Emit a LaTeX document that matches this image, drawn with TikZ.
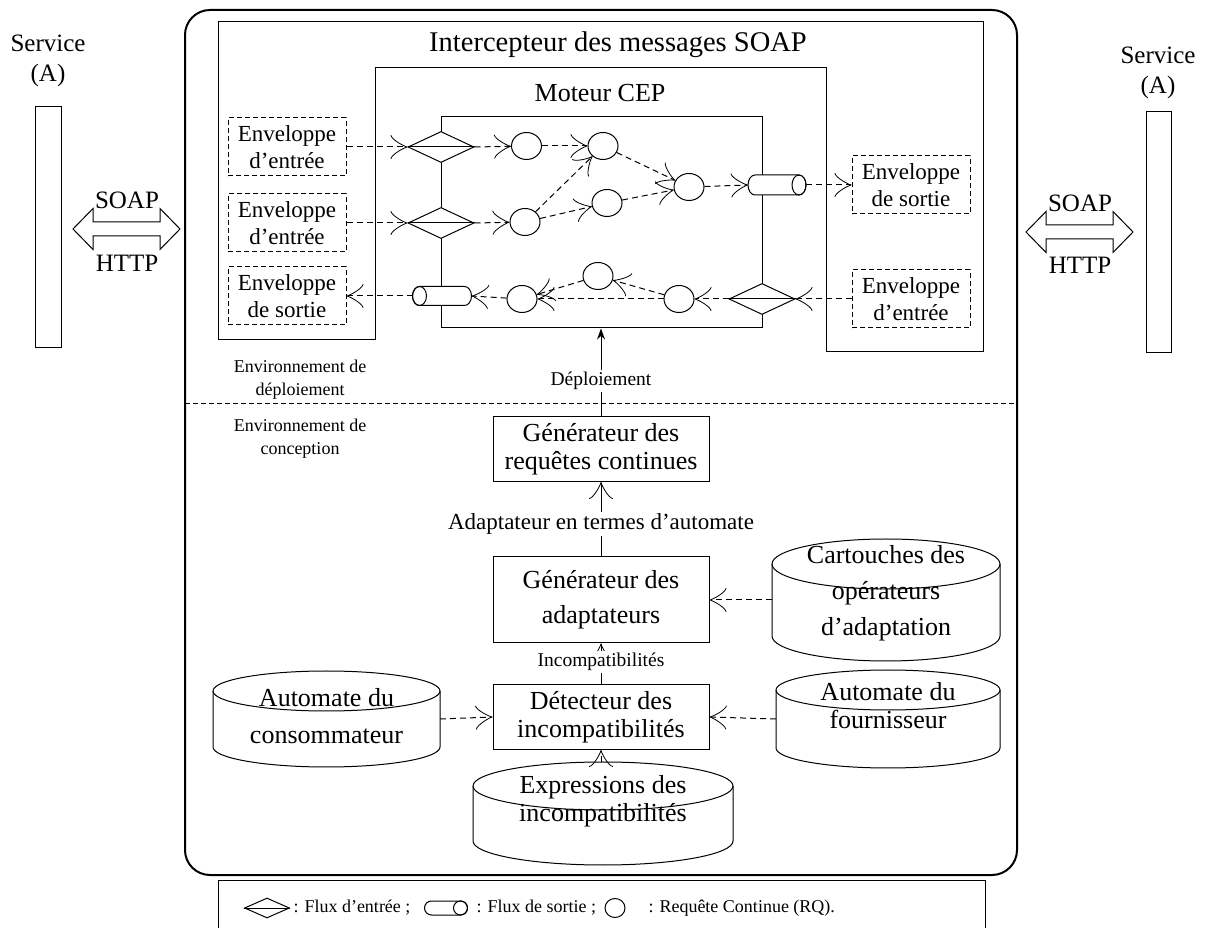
\documentclass[tikz,border=0pt]{standalone}
\usepackage{fontspec}
\setmainfont{Liberation Serif}
\usetikzlibrary{shapes.geometric, arrows.meta, calc}

\newcommand\bigtxt{\fontsize{26}{28}\selectfont}
\newcommand\widetxt{\fontsize{26}{36}\selectfont}
\newcommand\titletxt{\fontsize{28.5}{30}\selectfont}
\newcommand\svctxt{\fontsize{25}{30}\selectfont}
\newcommand\envtxt{\fontsize{23}{27}\selectfont}
\newcommand\labtxt{\fontsize{23}{24}\selectfont}
\newcommand\minortxt{\fontsize{19.5}{22}\selectfont}
\newcommand\smalltxt{\fontsize{18}{23}\selectfont}
\newcommand\legtxt{\fontsize{18}{20}\selectfont}

% horizontal tube (output stream): outline with rounded ends
\newcommand\tubebody[5]{% name, x, y, length, thickness ; end radius 7
  \node[minimum width=#4, minimum height=#5, inner sep=0pt, outer sep=0pt] (#1) at (#2,#3) {};
  \pgfmathsetmacro\tubeinner{#4-14}
  \pgfmathsetmacro\tuberad{#5/2}
  \draw[fill=white] ([xshift=7]#1.north west) -- ++(\tubeinner,0)
     arc[start angle=90, end angle=-90, x radius=7, y radius=\tuberad]
     -- ++(-\tubeinner,0)
     arc[start angle=270, end angle=90, x radius=7, y radius=\tuberad] -- cycle;
}
\newcommand\tubeR[5]{\tubebody{#1}{#2}{#3}{#4}{#5}%
  \draw ([xshift=-7]#1.east) ellipse[x radius=7, y radius=\tuberad];}
\newcommand\tubeL[5]{\tubebody{#1}{#2}{#3}{#4}{#5}%
  \draw ([xshift=7]#1.west) ellipse[x radius=7, y radius=\tuberad];}

% vertical storage cylinder drawn around a named node
\newcommand\store[6]{% name, x, y, width, height, cap radius
  \node[minimum width=#4, minimum height=#5, inner sep=0pt, outer sep=0pt] (#1) at (#2,#3) {};
  \pgfmathsetmacro\storerx{#4/2}
  \draw[fill=white] ([yshift=-#6]#1.north west) -- ([yshift=#6]#1.south west)
     arc[start angle=180, end angle=360, x radius=\storerx, y radius=#6]
     -- ([yshift=-#6]#1.north east)
     arc[start angle=0, end angle=180, x radius=\storerx, y radius=#6];
  \draw ([yshift=-#6]#1.north west)
     arc[start angle=180, end angle=360, x radius=\storerx, y radius=#6];
}

% fat two-headed arrow between a service and the platform
\newcommand\dblarrow[3]{%
  \draw (#1,#3) -- ++(20,20.5) -- ++(0,-13.5) -- ({#2-20},{#3+7}) -- ++(0,13.5)
    -- (#2,#3) -- ++(-20,-20.5) -- ++(0,13.5) -- ({#1+20},{#3-7}) -- ++(0,-13.5) -- cycle;
}

\tikzset{
  flowtip/.tip={Classical TikZ Rightarrow[length=17pt,width=24pt]},
  flow/.style={dash pattern=on 6pt off 4pt, -flowtip},
  solidflow/.style={-flowtip},
  qnode/.style={ellipse, draw, fill=white, minimum width=30, minimum height=27, inner sep=0pt},
  instream/.style={diamond, draw, fill=white, minimum width=66, minimum height=31, inner sep=0pt},
  envbox/.style={draw, dash pattern=on 5pt off 3pt, minimum width=118, minimum height=58,
                 inner sep=0pt, align=center, font=\envtxt},
  procbox/.style={draw, minimum width=216, minimum height=65, inner sep=0pt, align=center, font=\bigtxt},
  txt/.style={inner sep=0pt, align=center},
  onarrow/.style={fill=white, inner sep=2pt},
}

\begin{document}
\begin{tikzpicture}[x=1pt, y=1pt, line width=1pt]
\useasboundingbox (0,0) rectangle (1208,927);

% ---------- services ----------
\node[txt, font=\svctxt] (svcAlbl) at (48,866) {Service\\(A)};
\node[draw, minimum width=26, minimum height=241, inner sep=0pt] (svcA) at (48,699.5) {};
\node[txt, font=\svctxt] (svcBlbl) at (1158,854) {Service\\(A)};
\node[draw, minimum width=25, minimum height=241, inner sep=0pt] (svcB) at (1158.5,694.5) {};

\dblarrow{73}{180}{698}
\node[txt, font=\svctxt] (soapA) at (127,727) {SOAP};
\node[txt, font=\svctxt] (httpA) at (127,664) {HTTP};
\dblarrow{1026}{1133}{695}
\node[txt, font=\svctxt] (soapB) at (1080,724) {SOAP};
\node[txt, font=\svctxt] (httpB) at (1080,662) {HTTP};

% ---------- platform frame ----------
\draw[line width=2pt, rounded corners=25] (185,52) rectangle (1017,917);

% SOAP interceptor and CEP engine outlines
\draw (375,587) -- (218,587) -- (218,905) -- (983,905) -- (983,575) -- (826,575);
\draw (375,587) -- (375,859) -- (826,859) -- (826,575);
\node[txt, font=\titletxt] (icpt) at (618,882) {Intercepteur des messages SOAP};
\node[txt, font=\bigtxt] (cep) at (600,834) {Moteur CEP};

% continuous query network
\node[draw, minimum width=321, minimum height=211, inner sep=0pt] (rules) at (601.5,704.5) {};

\node[instream] (d1) at (441,780) {};
\node[instream] (d2) at (441,704) {};
\node[instream] (d3) at (762,628) {};
\draw (d1.west) -- (d1.east);
\draw (d2.west) -- (d2.east);
\draw (d3.west) -- (d3.east);

\tubeL{outL}{442}{631}{59}{19}
\tubeR{outR}{777}{742}{58}{20}

\node[qnode] (q1) at (526.5,781) {};
\node[qnode] (q2) at (603,781) {};
\node[qnode] (q3) at (525,705) {};
\node[qnode] (q4) at (607,724) {};
\node[qnode] (q5) at (689,740) {};
\node[qnode] (q6) at (598,651) {};
\node[qnode] (q7) at (522,628) {};
\node[qnode] (q8) at (679,628) {};

\node[envbox] (e1) at (287,780) {Enveloppe\\d’entrée};
\node[envbox] (e2) at (287,704) {Enveloppe\\d’entrée};
\node[envbox] (e3) at (287,631) {Enveloppe\\de sortie};
\node[envbox] (e4) at (911,742) {Enveloppe\\de sortie};
\node[envbox] (e5) at (911,628) {Enveloppe\\d’entrée};

\draw[flow] (e1.east) -- (d1.west);
\draw[flow] (d1.east) -- (q1);
\draw[flow] (q1) -- (q2);
\draw[flow] (e2.east) -- (d2.west);
\draw[flow] (d2.east) -- (q3);
\draw[flow] (q3) -- (q2);
\draw[flow] (q3) -- (q4);
\draw[flow] (q2) -- (q5);
\draw[flow] (q4) -- (q5);
\draw[flow] (q5) -- (outR.west);
\draw[flow] (outR.east) -- (e4.west);
\draw[flow] (e5.west) -- (d3.east);
\draw[flow] (d3.west) -- (q8);
\draw[flow] (q8) -- (q6);
\draw[flow] (q8) -- (q7);
\draw[flow] (q6) -- (q7);
\draw[flow] (q7) -- (outL.east);
\draw[flow] (outL.west) -- (e3.east);

% ---------- deployment / design split ----------
\draw[dash pattern=on 5pt off 3pt] (185,523) -- (1017,523);
\node[txt, font=\smalltxt] (envdep) at (300,547) {Environnement de\\déploiement};
\node[txt, font=\smalltxt] (envcon) at (300,488) {Environnement de\\conception};

\node[procbox] (b1) at (601,478) {Générateur des\\requêtes continues};
\node[procbox, minimum height=86, font=\fontsize{26}{35}\selectfont] (b2) at (601,327) {Générateur des\\adaptateurs};
\node[procbox] (b3) at (601,210) {Détecteur des\\incompatibilités};

\draw[-{Stealth[length=11pt,width=8pt]}] (b1.north) -- (b1.north |- rules.south);
\node[onarrow, font=\minortxt] (deplbl) at (601,546) {Déploiement};
\draw[solidflow] (b2.north) -- (b1.south);
\node[onarrow, font=\labtxt] (adalbl) at (601,403) {Adaptateur en termes d’automate};
\draw[solidflow] (b3.north) -- (b2.south);
\node[onarrow, font=\minortxt] (inclbl) at (601,265) {Incompatibilités};

\store{cart}{886}{327}{228}{122}{25}
\node[txt, font=\widetxt] (carttxt) at (886,334) {Cartouches des\\opérateurs\\d’adaptation};
\store{cons}{326.5}{208}{227}{96}{20}
\node[txt, font=\fontsize{26}{37}\selectfont] (constxt) at (326.5,211) {Automate du\\consommateur};
\store{four}{888}{208}{224}{98}{20}
\node[txt, font=\bigtxt] (fourtxt) at (888,221) {Automate du\\fournisseur};
\store{expr}{603}{113.5}{260}{103}{24}
\node[txt, font=\bigtxt] (exprtxt) at (603,126) {Expressions des\\incompatibilités};

\draw[flow] (cart.west) -- (b2.east);
\draw[flow] (cons.east) -- (b3.west);
\draw[flow] (four.west) -- (b3.east);
\draw[flow] (expr.north -| b3.south) -- (b3.south);

% ---------- legend ----------
\draw (218,-3) rectangle (985,47);
\node[diamond, draw, minimum width=45, minimum height=20, inner sep=0pt] (lgd) at (267,19) {};
\draw (lgd.west) -- (lgd.east);
\node[txt, font=\legtxt, anchor=west] (lgdtxt) at (293,19) {: Flux d’entrée ;};
\tubeR{lgt}{446}{19}{43}{14}
\node[txt, font=\legtxt, anchor=west] (lgttxt) at (476,19) {: Flux de sortie ;};
\node[ellipse, draw, minimum width=20, minimum height=19, inner sep=0pt] (lgq) at (615,19) {};
\node[txt, font=\legtxt, anchor=west] (lgqtxt) at (648,19) {: Requête Continue (RQ).};
\end{tikzpicture}
\end{document}
